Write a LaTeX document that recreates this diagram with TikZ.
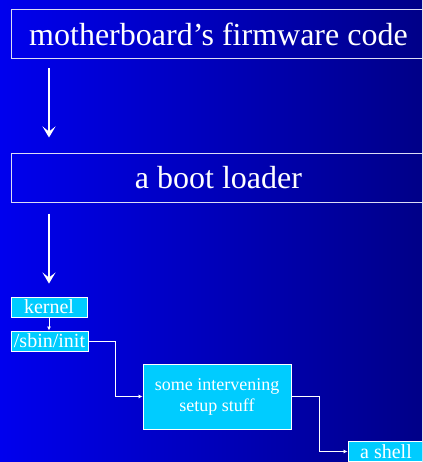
\documentclass[tikz,border=0pt]{standalone}
\usepackage{fontspec}
\setmainfont{Liberation Serif}
\usetikzlibrary{arrows.meta}
\definecolor{bgleft}{RGB}{0,0,238}
\definecolor{bgright}{RGB}{0,0,136}
\definecolor{stagecyan}{RGB}{0,204,255}
\definecolor{frameline}{RGB}{220,220,245}
\tikzset{
  bigbox/.style={draw=frameline, line width=1pt, text=white, inner sep=0pt,
    font=\fontsize{32}{36}\selectfont},
  smallbox/.style={draw=white, line width=0.9pt, fill=stagecyan, text=white,
    inner sep=0pt, font=\fontsize{20}{22}\selectfont},
  midbox/.style={draw=white, line width=0.9pt, fill=stagecyan, text=white,
    inner sep=0pt, align=center, font=\fontsize{18}{21}\selectfont},
  bigarrow/.style={draw=white, line width=2pt,
    -{Stealth[length=11pt,width=13pt,inset=5pt]}},
  thinarrow/.style={draw=white, line width=0.8pt,
    -{Latex[length=4pt,width=4pt]}}
}
\begin{document}
\begin{tikzpicture}[x=1pt,y=-1pt]
  \useasboundingbox (0,0) rectangle (422,462);
  \clip (0,0) rectangle (422,462);
  % gradient backdrop
  \shade[left color=bgleft, right color=bgright] (0,0) rectangle (422,462);

  % boot stages
  \node[bigbox, minimum width=415pt, minimum height=49pt] (fw) at (218.5,34.5)
    {motherboard’s firmware code};
  \node[bigbox, minimum width=415pt, minimum height=48pt] (boot) at (218.5,178)
    {a boot loader};
  \node[smallbox, minimum width=76pt, minimum height=20pt] (kernel) at (49,307)
    {kernel};
  \node[smallbox, minimum width=77pt, minimum height=20pt] (init) at (49.5,341)
    {/sbin/init};
  \node[midbox, minimum width=148pt, minimum height=65pt] (setup) at (217,396.5)
    {some intervening\\setup stuff};
  \node[smallbox, minimum width=76pt, minimum height=20pt] (shell) at (386,451.5)
    {a shell};

  % connectors
  \draw[bigarrow, shorten <=9pt, shorten >=16pt]
    (fw.south -| kernel.north) -- (boot.north -| kernel.north);
  \draw[bigarrow, shorten <=11pt, shorten >=13pt]
    (boot.south -| kernel.north) -- (kernel.north);
  \draw[thinarrow] (kernel.south) -- (init.north -| kernel.south);
  \draw[thinarrow] (init.east) -- ++(27,0) |- (setup.west);
  \draw[thinarrow] (setup.east) -- ++(28,0) |- (shell.west);
\end{tikzpicture}
\end{document}
